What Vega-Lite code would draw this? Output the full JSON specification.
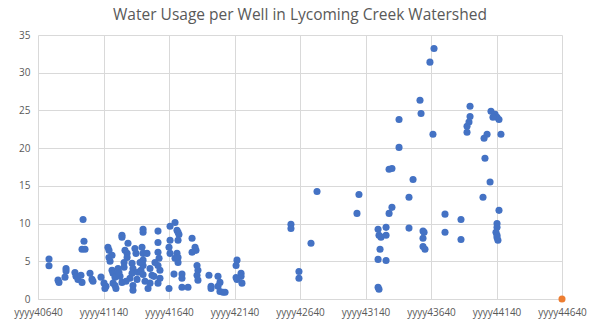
{
  "$schema": "https://vega.github.io/schema/vega-lite/v6.json",
  "width": 524,
  "height": 264,
  "autosize": {"type": "none"},
  "padding": {"left": 38, "right": 38, "top": 35, "bottom": 33},
  "background": "white",
  "title": {"text": "Water Usage per Well in Lycoming Creek Watershed", "font": "Open Sans", "fontSize": 15.5, "fontWeight": "normal", "color": "#595959", "anchor": "middle", "offset": 7},
  "config": {
    "view": {"stroke": null},
    "axis": {"labelFont": "Open Sans", "labelFontSize": 10, "labelColor": "#595959", "gridColor": "#d9d9d9", "gridWidth": 1, "ticks": false, "title": null}
  },
  "data": {"values": [
    {"x": 40724, "y": 5.3, "s": "a"}, {"x": 40724, "y": 4.4, "s": "a"}, {"x": 40793, "y": 2.5, "s": "a"}, {"x": 40800, "y": 2.2, "s": "a"},
    {"x": 40854, "y": 4.05, "s": "a"}, {"x": 40854, "y": 3.7, "s": "a"}, {"x": 40846, "y": 2.9, "s": "a"},
    {"x": 40922, "y": 3.5, "s": "a"}, {"x": 40930, "y": 3.0, "s": "a"}, {"x": 40945, "y": 2.6, "s": "a"},
    {"x": 40968, "y": 3.15, "s": "a"}, {"x": 40976, "y": 2.2, "s": "a"}, {"x": 40984, "y": 10.55, "s": "a"},
    {"x": 40991, "y": 7.65, "s": "a"}, {"x": 40976, "y": 6.6, "s": "a"}, {"x": 40999, "y": 6.6, "s": "a"},
    {"x": 41037, "y": 3.4, "s": "a"}, {"x": 41052, "y": 2.6, "s": "a"}, {"x": 41060, "y": 2.35, "s": "a"},
    {"x": 41121, "y": 2.9, "s": "a"}, {"x": 41144, "y": 2.1, "s": "a"}, {"x": 41159, "y": 1.7, "s": "a"}, {"x": 41151, "y": 1.4, "s": "a"},
    {"x": 41174, "y": 6.85, "s": "a"}, {"x": 41182, "y": 6.45, "s": "a"}, {"x": 41182, "y": 5.5, "s": "a"}, {"x": 41190, "y": 5.0, "s": "a"},
    {"x": 41205, "y": 3.8, "s": "a"}, {"x": 41213, "y": 3.4, "s": "a"}, {"x": 41228, "y": 2.9, "s": "a"}, {"x": 41213, "y": 2.1, "s": "a"},
    {"x": 41228, "y": 1.8, "s": "a"}, {"x": 41235, "y": 1.4, "s": "a"}, {"x": 41251, "y": 4.05, "s": "a"}, {"x": 41266, "y": 3.0, "s": "a"},
    {"x": 41281, "y": 2.2, "s": "a"}, {"x": 41281, "y": 8.45, "s": "a"}, {"x": 41281, "y": 8.2, "s": "a"}, {"x": 41297, "y": 4.85, "s": "a"},
    {"x": 41297, "y": 4.2, "s": "a"}, {"x": 41304, "y": 6.45, "s": "a"}, {"x": 41320, "y": 6.05, "s": "a"}, {"x": 41327, "y": 7.4, "s": "a"},
    {"x": 41342, "y": 2.75, "s": "a"}, {"x": 41365, "y": 1.8, "s": "a"}, {"x": 41365, "y": 1.15, "s": "a"}, {"x": 41358, "y": 4.75, "s": "a"},
    {"x": 41365, "y": 4.05, "s": "a"}, {"x": 41358, "y": 3.4, "s": "a"}, {"x": 41380, "y": 6.7, "s": "a"}, {"x": 41388, "y": 6.05, "s": "a"},
    {"x": 41403, "y": 3.55, "s": "a"}, {"x": 41426, "y": 3.8, "s": "a"}, {"x": 41442, "y": 3.25, "s": "a"}, {"x": 41434, "y": 6.85, "s": "a"},
    {"x": 41442, "y": 6.05, "s": "a"}, {"x": 41442, "y": 5.15, "s": "a"}, {"x": 41442, "y": 4.45, "s": "a"}, {"x": 41442, "y": 9.25, "s": "a"},
    {"x": 41442, "y": 8.85, "s": "a"}, {"x": 41472, "y": 6.05, "s": "a"}, {"x": 41495, "y": 4.05, "s": "a"}, {"x": 41510, "y": 3.15, "s": "a"},
    {"x": 41495, "y": 2.1, "s": "a"}, {"x": 41480, "y": 1.4, "s": "a"}, {"x": 41556, "y": 9.0, "s": "a"}, {"x": 41556, "y": 7.5, "s": "a"},
    {"x": 41556, "y": 6.2, "s": "a"}, {"x": 41564, "y": 5.4, "s": "a"}, {"x": 41556, "y": 4.45, "s": "a"}, {"x": 41571, "y": 3.8, "s": "a"},
    {"x": 41571, "y": 2.75, "s": "a"}, {"x": 41556, "y": 2.1, "s": "a"},
    {"x": 41320, "y": 5.5, "s": "a"}, {"x": 41419, "y": 4.85, "s": "a"}, {"x": 41258, "y": 3.5, "s": "a"}, {"x": 41312, "y": 2.35, "s": "a"},
    {"x": 41396, "y": 2.6, "s": "a"}, {"x": 41457, "y": 2.35, "s": "a"}, {"x": 41525, "y": 3.0, "s": "a"}, {"x": 41533, "y": 4.85, "s": "a"},
    {"x": 41205, "y": 5.8, "s": "a"},
    {"x": 41640, "y": 1.4, "s": "a"}, {"x": 41648, "y": 9.65, "s": "a"}, {"x": 41686, "y": 10.15, "s": "a"}, {"x": 41701, "y": 9.1, "s": "a"},
    {"x": 41709, "y": 8.85, "s": "a"}, {"x": 41716, "y": 8.55, "s": "a"}, {"x": 41648, "y": 7.8, "s": "a"}, {"x": 41640, "y": 6.85, "s": "a"},
    {"x": 41648, "y": 6.05, "s": "a"}, {"x": 41709, "y": 7.8, "s": "a"}, {"x": 41701, "y": 6.05, "s": "a"}, {"x": 41709, "y": 5.5, "s": "a"},
    {"x": 41709, "y": 4.85, "s": "a"}, {"x": 41686, "y": 5.4, "s": "a"}, {"x": 41678, "y": 3.3, "s": "a"}, {"x": 41739, "y": 3.3, "s": "a"},
    {"x": 41739, "y": 2.75, "s": "a"}, {"x": 41739, "y": 1.55, "s": "a"}, {"x": 41785, "y": 1.55, "s": "a"}, {"x": 41816, "y": 8.05, "s": "a"},
    {"x": 41839, "y": 6.85, "s": "a"}, {"x": 41846, "y": 6.45, "s": "a"}, {"x": 41816, "y": 6.2, "s": "a"}, {"x": 41854, "y": 4.45, "s": "a"},
    {"x": 41861, "y": 3.8, "s": "a"}, {"x": 41854, "y": 3.15, "s": "a"}, {"x": 41861, "y": 2.5, "s": "a"}, {"x": 41945, "y": 3.15, "s": "a"},
    {"x": 41961, "y": 1.7, "s": "a"}, {"x": 41961, "y": 1.4, "s": "a"}, {"x": 42014, "y": 3.0, "s": "a"}, {"x": 42029, "y": 2.2, "s": "a"},
    {"x": 42014, "y": 1.7, "s": "a"}, {"x": 42029, "y": 1.0, "s": "a"}, {"x": 42052, "y": 0.9, "s": "a"}, {"x": 42068, "y": 0.9, "s": "a"},
    {"x": 42159, "y": 5.15, "s": "a"}, {"x": 42152, "y": 4.45, "s": "a"}, {"x": 42190, "y": 3.4, "s": "a"}, {"x": 42190, "y": 3.0, "s": "a"},
    {"x": 42152, "y": 2.85, "s": "a"}, {"x": 42159, "y": 2.6, "s": "a"}, {"x": 42197, "y": 2.1, "s": "a"},
    {"x": 42571, "y": 9.9, "s": "a"}, {"x": 42571, "y": 9.35, "s": "a"}, {"x": 42632, "y": 3.65, "s": "a"}, {"x": 42632, "y": 2.75, "s": "a"},
    {"x": 42724, "y": 7.4, "s": "a"}, {"x": 42770, "y": 14.25, "s": "a"}, {"x": 43090, "y": 13.85, "s": "a"}, {"x": 43075, "y": 11.35, "s": "a"},
    {"x": 43236, "y": 9.25, "s": "a"}, {"x": 43243, "y": 8.45, "s": "a"}, {"x": 43258, "y": 8.2, "s": "a"}, {"x": 43297, "y": 9.5, "s": "a"},
    {"x": 43297, "y": 8.45, "s": "a"}, {"x": 43251, "y": 6.6, "s": "a"}, {"x": 43236, "y": 5.25, "s": "a"}, {"x": 43297, "y": 5.1, "s": "a"},
    {"x": 43236, "y": 1.55, "s": "a"}, {"x": 43243, "y": 1.3, "s": "a"}, {"x": 43320, "y": 17.2, "s": "a"}, {"x": 43342, "y": 17.3, "s": "a"},
    {"x": 43342, "y": 12.15, "s": "a"}, {"x": 43320, "y": 11.35, "s": "a"}, {"x": 43503, "y": 15.85, "s": "a"}, {"x": 43472, "y": 13.5, "s": "a"},
    {"x": 43472, "y": 9.4, "s": "a"}, {"x": 43396, "y": 23.8, "s": "a"}, {"x": 43396, "y": 20.1, "s": "a"}, {"x": 43556, "y": 26.35, "s": "a"},
    {"x": 43564, "y": 24.6, "s": "a"}, {"x": 43632, "y": 31.4, "s": "a"}, {"x": 43663, "y": 33.2, "s": "a"}, {"x": 43655, "y": 21.85, "s": "a"},
    {"x": 43579, "y": 9.0, "s": "a"}, {"x": 43587, "y": 8.85, "s": "a"}, {"x": 43579, "y": 8.05, "s": "a"}, {"x": 43579, "y": 6.95, "s": "a"},
    {"x": 43594, "y": 6.6, "s": "a"}, {"x": 43747, "y": 11.25, "s": "a"}, {"x": 43747, "y": 8.85, "s": "a"}, {"x": 43869, "y": 10.55, "s": "a"},
    {"x": 43869, "y": 7.9, "s": "a"}, {"x": 43938, "y": 25.55, "s": "a"}, {"x": 43938, "y": 24.2, "s": "a"}, {"x": 43930, "y": 23.45, "s": "a"},
    {"x": 43915, "y": 22.9, "s": "a"}, {"x": 43915, "y": 22.1, "s": "a"}, {"x": 44098, "y": 24.9, "s": "a"}, {"x": 44129, "y": 24.5, "s": "a"},
    {"x": 44144, "y": 24.1, "s": "a"}, {"x": 44159, "y": 23.8, "s": "a"}, {"x": 44113, "y": 24.1, "s": "a"}, {"x": 44174, "y": 21.85, "s": "a"},
    {"x": 44068, "y": 21.85, "s": "a"}, {"x": 44045, "y": 21.3, "s": "a"}, {"x": 44052, "y": 18.65, "s": "a"}, {"x": 44091, "y": 15.5, "s": "a"},
    {"x": 44037, "y": 13.5, "s": "a"}, {"x": 44159, "y": 11.75, "s": "a"}, {"x": 44144, "y": 10.0, "s": "a"}, {"x": 44144, "y": 9.5, "s": "a"},
    {"x": 44136, "y": 8.85, "s": "a"}, {"x": 44144, "y": 8.45, "s": "a"}, {"x": 44144, "y": 8.15, "s": "a"}, {"x": 44151, "y": 7.8, "s": "a"},
    {"x": 44640, "y": 0, "s": "b"}
  ]},
  "mark": {"type": "circle", "size": 50, "opacity": 1},
  "encoding": {
    "x": {"field": "x", "type": "quantitative", "scale": {"domain": [40640, 44640], "nice": false, "zero": false},
      "axis": {"values": [40640, 41140, 41640, 42140, 42640, 43140, 43640, 44140, 44640], "labelExpr": "'yyyy' + datum.value", "labelPadding": 8, "domainColor": "#d9d9d9", "labelFlush": false}},
    "y": {"field": "y", "type": "quantitative", "scale": {"domain": [0, 35], "nice": false},
      "axis": {"values": [0, 5, 10, 15, 20, 25, 30, 35], "domain": false, "labelPadding": 8}},
    "color": {"field": "s", "type": "nominal", "scale": {"domain": ["a", "b"], "range": ["#4472C4", "#ED7D31"]}, "legend": null}
  }
}
